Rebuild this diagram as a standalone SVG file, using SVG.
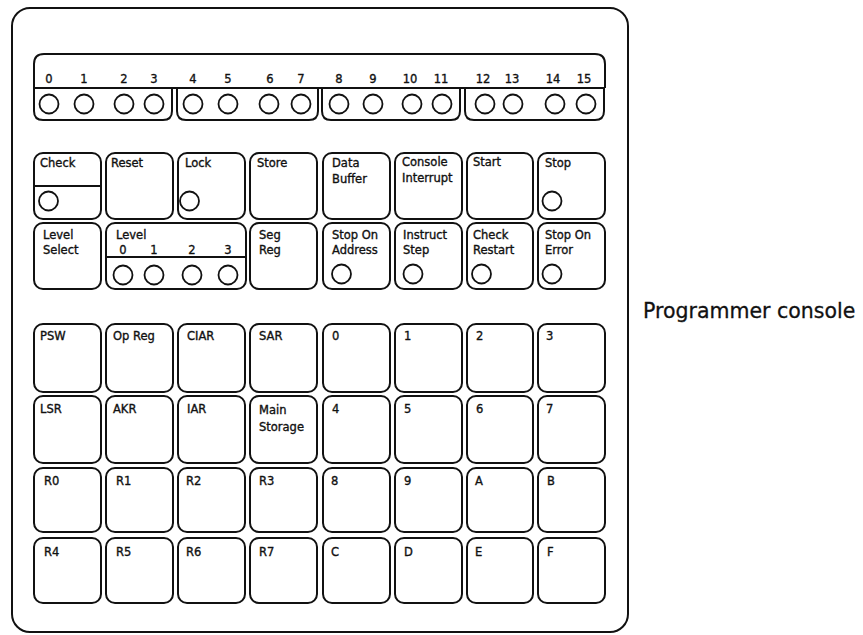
<svg xmlns="http://www.w3.org/2000/svg" width="863" height="635" viewBox="0 0 863 635">
<style>
.ln{fill:none;stroke:#111;stroke-width:2;stroke-linejoin:round}
.k{fill:#fff;stroke:#111;stroke-width:2}
.c{fill:#fff;stroke:#111;stroke-width:1.8}
text{font-family:"DejaVu Sans","Liberation Sans",sans-serif;font-size:11.5px;fill:#111;stroke:#111;stroke-width:0.35}
.n{text-anchor:middle}
.cap{font-size:20.5px;stroke-width:0.3}
</style>
<rect width="863" height="635" fill="#fff"/>
<g id="panel"><rect class="ln" x="12" y="8" width="616" height="624" rx="18"/></g>
<g id="indicators">
<path class="ln" d="M34,88 V64 Q34,54 44,54 H595 Q605,54 605,64 V88 M34,88 H605"/>
<path class="ln" d="M34,88 V111 Q34,120 43,120 H163 Q172,120 172,111 V88"/>
<path class="ln" d="M177,88 V111 Q177,120 186,120 H309 Q318,120 318,111 V88"/>
<path class="ln" d="M322,88 V111 Q322,120 331,120 H451 Q460,120 460,111 V88"/>
<path class="ln" d="M465,88 V111 Q465,120 474,120 H595 Q604,120 604,111 V88"/>
<g class="n">
<text x="49" y="83">0</text><text x="84" y="83">1</text><text x="124" y="83">2</text><text x="154" y="83">3</text>
<text x="193" y="83">4</text><text x="228" y="83">5</text><text x="270" y="83">6</text><text x="301" y="83">7</text>
<text x="339" y="83">8</text><text x="373" y="83">9</text><text x="410" y="83">10</text><text x="441" y="83">11</text>
<text x="483" y="83">12</text><text x="512" y="83">13</text><text x="553" y="83">14</text><text x="584" y="83">15</text>
</g>
<circle class="c" cx="49" cy="104" r="9.5"/><circle class="c" cx="84" cy="104" r="9.5"/><circle class="c" cx="124" cy="104" r="9.5"/><circle class="c" cx="154" cy="104" r="9.5"/>
<circle class="c" cx="193" cy="104" r="9.5"/><circle class="c" cx="228" cy="104" r="9.5"/><circle class="c" cx="269" cy="104" r="9.5"/><circle class="c" cx="301" cy="104" r="9.5"/>
<circle class="c" cx="339" cy="104" r="9.5"/><circle class="c" cx="373" cy="104" r="9.5"/><circle class="c" cx="412" cy="104" r="9.5"/><circle class="c" cx="442" cy="104" r="9.5"/>
<circle class="c" cx="485" cy="104" r="9.5"/><circle class="c" cx="513" cy="104" r="9.5"/><circle class="c" cx="555" cy="104" r="9.5"/><circle class="c" cx="586" cy="104" r="9.5"/>
</g>
<!-- row 1 -->
<g id="check"><rect class="k" x="34" y="153" width="67" height="66" rx="9"/><line class="ln" x1="34" y1="186" x2="101" y2="186"/><text x="40" y="167">Check</text><circle class="c" cx="48.5" cy="201" r="9.5"/></g>
<g id="reset"><rect class="k" x="106" y="153" width="67" height="66" rx="9"/><text x="111" y="167">Reset</text></g>
<g id="lock"><rect class="k" x="178" y="153" width="67" height="66" rx="9"/><text x="185" y="167">Lock</text><circle class="c" cx="189.5" cy="201" r="9.5"/></g>
<g id="store"><rect class="k" x="250" y="153" width="67" height="66" rx="9"/><text x="257" y="167">Store</text></g>
<g id="data-buffer"><rect class="k" x="323" y="153" width="67" height="66" rx="9"/><text x="332" y="167">Data</text><text x="332" y="183">Buffer</text></g>
<g id="console-interrupt"><rect class="k" x="395" y="153" width="67" height="66" rx="9"/><text x="402" y="166">Console</text><text x="402" y="182">Interrupt</text></g>
<g id="start"><rect class="k" x="467" y="153" width="66" height="66" rx="9"/><text x="473" y="166">Start</text></g>
<g id="stop"><rect class="k" x="538" y="153" width="67" height="66" rx="9"/><text x="545" y="167">Stop</text><circle class="c" cx="552" cy="201" r="9.5"/></g>
<!-- row 2 -->
<g id="level-select"><rect class="k" x="34" y="223" width="67" height="66" rx="9"/><text x="43" y="239">Level</text><text x="43" y="254">Select</text></g>
<g id="level"><rect class="k" x="106" y="223" width="140" height="66" rx="9"/><text x="116" y="239">Level</text><line class="ln" x1="106" y1="257" x2="246" y2="257"/>
<g class="n"><text x="123" y="254">0</text><text x="154" y="254">1</text><text x="192" y="254">2</text><text x="228" y="254">3</text></g>
<circle class="c" cx="123" cy="275" r="9.5"/><circle class="c" cx="154" cy="275" r="9.5"/><circle class="c" cx="192" cy="275" r="9.5"/><circle class="c" cx="228" cy="275" r="9.5"/></g>
<g id="seg-reg"><rect class="k" x="250" y="223" width="67" height="66" rx="9"/><text x="259" y="239">Seg</text><text x="259" y="254">Reg</text></g>
<g id="stop-on-address"><rect class="k" x="323" y="223" width="67" height="66" rx="9"/><text x="332" y="239">Stop On</text><text x="332" y="254">Address</text><circle class="c" cx="341.5" cy="274" r="9.5"/></g>
<g id="instruct-step"><rect class="k" x="395" y="223" width="67" height="66" rx="9"/><text x="403" y="239">Instruct</text><text x="403" y="254">Step</text><circle class="c" cx="413" cy="274" r="9.5"/></g>
<g id="check-restart"><rect class="k" x="467" y="223" width="66" height="66" rx="9"/><text x="473" y="239">Check</text><text x="473" y="254">Restart</text><circle class="c" cx="481.5" cy="274" r="9.5"/></g>
<g id="stop-on-error"><rect class="k" x="538" y="223" width="67" height="66" rx="9"/><text x="545" y="239">Stop On</text><text x="545" y="254">Error</text><circle class="c" cx="552" cy="274" r="9.5"/></g>
<!-- row 3 -->
<g id="psw"><rect class="k" x="34" y="324" width="67" height="68" rx="9"/><text x="40" y="340">PSW</text></g>
<g id="op-reg"><rect class="k" x="106" y="324" width="67" height="68" rx="9"/><text x="113" y="340">Op Reg</text></g>
<g id="ciar"><rect class="k" x="178" y="324" width="67" height="68" rx="9"/><text x="187" y="340">CIAR</text></g>
<g id="sar"><rect class="k" x="250" y="324" width="67" height="68" rx="9"/><text x="259" y="340">SAR</text></g>
<g id="k0"><rect class="k" x="323" y="324" width="67" height="68" rx="9"/><text x="332" y="340">0</text></g>
<g id="k1"><rect class="k" x="395" y="324" width="67" height="68" rx="9"/><text x="404" y="340">1</text></g>
<g id="k2"><rect class="k" x="467" y="324" width="66" height="68" rx="9"/><text x="476" y="340">2</text></g>
<g id="k3"><rect class="k" x="538" y="324" width="67" height="68" rx="9"/><text x="546" y="340">3</text></g>
<!-- row 4 -->
<g id="lsr"><rect class="k" x="34" y="396" width="67" height="67" rx="9"/><text x="40" y="413">LSR</text></g>
<g id="akr"><rect class="k" x="106" y="396" width="67" height="67" rx="9"/><text x="113" y="413">AKR</text></g>
<g id="iar"><rect class="k" x="178" y="396" width="67" height="67" rx="9"/><text x="187" y="413">IAR</text></g>
<g id="main-storage"><rect class="k" x="250" y="396" width="67" height="67" rx="9"/><text x="259" y="414">Main</text><text x="259" y="431">Storage</text></g>
<g id="k4"><rect class="k" x="323" y="396" width="67" height="67" rx="9"/><text x="332" y="413">4</text></g>
<g id="k5"><rect class="k" x="395" y="396" width="67" height="67" rx="9"/><text x="404" y="413">5</text></g>
<g id="k6"><rect class="k" x="467" y="396" width="66" height="67" rx="9"/><text x="476" y="413">6</text></g>
<g id="k7"><rect class="k" x="538" y="396" width="67" height="67" rx="9"/><text x="546" y="413">7</text></g>
<!-- row 5 -->
<g id="r0"><rect class="k" x="34" y="468" width="67" height="64" rx="9"/><text x="44" y="485">R0</text></g>
<g id="r1"><rect class="k" x="106" y="468" width="67" height="64" rx="9"/><text x="116" y="485">R1</text></g>
<g id="r2"><rect class="k" x="178" y="468" width="67" height="64" rx="9"/><text x="186" y="485">R2</text></g>
<g id="r3"><rect class="k" x="250" y="468" width="67" height="64" rx="9"/><text x="259" y="485">R3</text></g>
<g id="k8"><rect class="k" x="323" y="468" width="67" height="64" rx="9"/><text x="331" y="485">8</text></g>
<g id="k9"><rect class="k" x="395" y="468" width="67" height="64" rx="9"/><text x="404" y="485">9</text></g>
<g id="kA"><rect class="k" x="467" y="468" width="66" height="64" rx="9"/><text x="475" y="485">A</text></g>
<g id="kB"><rect class="k" x="538" y="468" width="67" height="64" rx="9"/><text x="547" y="485">B</text></g>
<!-- row 6 -->
<g id="r4"><rect class="k" x="34" y="538" width="67" height="65" rx="9"/><text x="44" y="556">R4</text></g>
<g id="r5"><rect class="k" x="106" y="538" width="67" height="65" rx="9"/><text x="116" y="556">R5</text></g>
<g id="r6"><rect class="k" x="178" y="538" width="67" height="65" rx="9"/><text x="186" y="556">R6</text></g>
<g id="r7"><rect class="k" x="250" y="538" width="67" height="65" rx="9"/><text x="259" y="556">R7</text></g>
<g id="kC"><rect class="k" x="323" y="538" width="67" height="65" rx="9"/><text x="331" y="556">C</text></g>
<g id="kD"><rect class="k" x="395" y="538" width="67" height="65" rx="9"/><text x="404" y="556">D</text></g>
<g id="kE"><rect class="k" x="467" y="538" width="66" height="65" rx="9"/><text x="475" y="556">E</text></g>
<g id="kF"><rect class="k" x="538" y="538" width="67" height="65" rx="9"/><text x="547" y="556">F</text></g>
<g id="connectors"/>
<g id="caption"><text class="cap" x="643" y="318">Programmer console</text></g>
</svg>
